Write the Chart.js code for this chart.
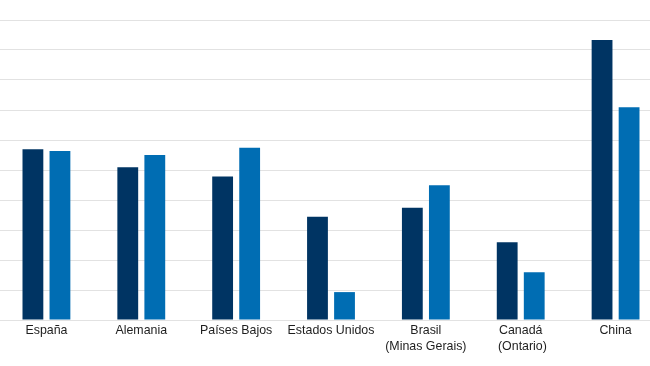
<!DOCTYPE html>
<html>
<head>
<meta charset="utf-8">
<script src="https://cdn.jsdelivr.net/npm/chart.js@4.4.1/dist/chart.umd.min.js"></script>
<style>
  html, body { margin: 0; padding: 0; background: #fff; overflow: hidden; }
  #wrap { position: absolute; left: -1px; top: 0; width: 664px; height: 366px; }
</style>
</head>
<body>
<div id="wrap"><canvas id="chart-1"></canvas></div>
<script>
const categories = ["España", "Alemania", "Países Bajos", "Estados Unidos", ["Brasil", "(Minas Gerais)"], ["Canadá", "\u00a0(Ontario)"], "China"];
const serie1 = [5.69, 5.09, 4.78, 3.44, 3.74, 2.59, 9.33];
const serie2 = [5.63, 5.5, 5.74, 0.93, 4.49, 1.59, 7.09];
const yTicks = [0, 1, 2, 3, 4, 5, 6, 7, 8, 9, 10];

const ctx1 = document.getElementById("chart-1").getContext("2d");
const myChart = new Chart(ctx1, {
    type: "bar",
    data: {
        labels: categories,
        datasets: [
            { data: serie1, backgroundColor: "#003463" },
            { data: serie2, backgroundColor: "#006db3" },
        ],
    },
    options: {
        responsive: true,
        maintainAspectRatio: false,
        animation: false,
        layout: { padding: { top: 20, left: 0, right: 0, bottom: 0 } },
        plugins: { legend: { display: false }, tooltip: { enabled: false } },
        datasets: { bar: { categoryPercentage: 0.57, barPercentage: 0.77 } },
        scales: {
            x: {
                grid: { display: false, drawTicks: false },
                border: { display: false },
                ticks: {
                    color: "#1e1e1e",
                    font: { family: "'Liberation Sans', Arial, sans-serif", size: 12.4, lineHeight: 1.27 },
                    padding: 3,
                    maxRotation: 0,
                    autoSkip: false,
                },
                afterFit: (scale) => { scale.height = 46; },
            },
            y: {
                min: 0,
                max: 10,
                afterBuildTicks: (scale) => { scale.ticks = yTicks.map((v) => ({ value: v })); },
                ticks: { display: false },
                border: { display: false },
                grid: { color: "#e2e2e2", lineWidth: 1, drawTicks: false },
                afterFit: (scale) => { scale.width = 0; },
            },
        },
    },
});
</script>
</body>
</html>
